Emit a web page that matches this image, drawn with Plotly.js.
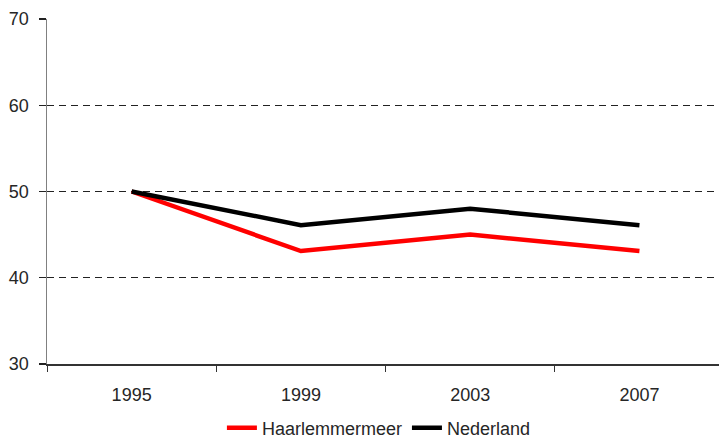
<!DOCTYPE html>
<html>
<head>
<meta charset="utf-8">
<script src="https://cdn.plot.ly/plotly-3.0.1.min.js"></script>
<style>html,body{margin:0;padding:0;background:#fff;}#chart{width:719px;height:439px;}</style>
</head>
<body>
<div id="chart"></div>
<script>
const years = ["1995", "1999", "2003", "2007"];
const haarlemmermeer = [50, 43.1, 45, 43.1];
const nederland = [50, 46.1, 48, 46.1];
const seriesNames = ["Haarlemmermeer", "Nederland"];
const yTicks = [30, 40, 50, 60, 70];

const traces = [
  {x: years, y: haarlemmermeer, name: seriesNames[0], type: "scatter", mode: "lines",
   line: {color: "#ff0000", width: 4.5}},
  {x: years, y: nederland, name: seriesNames[1], type: "scatter", mode: "lines",
   line: {color: "#000000", width: 4.5}}
];

const layout = {
  width: 719, height: 439,
  margin: {l: 47, r: 0, t: 19, b: 75, pad: 0},
  paper_bgcolor: "#ffffff", plot_bgcolor: "#ffffff",
  font: {family: "Liberation Sans, Arial, sans-serif", size: 18, color: "#262626"},
  showlegend: true,
  legend: {orientation: "h", xref: "container", yref: "container", x: 0.527, y: 0.025,
           xanchor: "center", yanchor: "middle", font: {size: 18, color: "#262626"},
           itemwidth: 30, tracegroupgap: 0},
  xaxis: {type: "category", range: [-0.5, 3.47], tickson: "boundaries",
          ticks: "outside", ticklen: 6, tickcolor: "#333333", tickwidth: 1,
          showline: true, linecolor: "#333333", linewidth: 1.5,
          showgrid: false, zeroline: false, fixedrange: true,
          tickfont: {size: 18, color: "#262626"}, ticklabelstandoff: 14},
  yaxis: {range: [30, 70], tickvals: yTicks, ticks: "outside", ticklen: 7,
          tickcolor: "#222222", tickwidth: 1.2,
          showline: true, linecolor: "#808080", linewidth: 1.5,
          showgrid: true, gridcolor: "#222222", griddash: "7px,5px", gridwidth: 1,
          zeroline: false, fixedrange: true,
          tickfont: {size: 18, color: "#262626"}, ticklabelstandoff: 6}
};

Plotly.newPlot("chart", traces, layout, {displayModeBar: false, staticPlot: true});
</script>
</body>
</html>
